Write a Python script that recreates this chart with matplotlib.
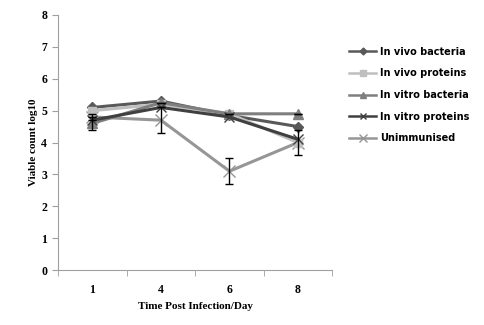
import matplotlib.pyplot as plt
import numpy as np

##------DATA-----------------------------------------------------------
days = ['1', '4', '6', '8']
in_vivo_bacteria = [5.1, 5.3, 4.85, 4.5]
in_vivo_proteins = [5.0, 5.2, 4.9, 4.0]
in_vitro_bacteria = [4.6, 5.25, 4.9, 4.9]
in_vitro_proteins = [4.7, 5.1, 4.8, 4.1]
unimmunised = [4.8, 4.7, 3.1, 4.0]
unimmunised_err = [0.1, 0.4, 0.4, 0.4]
in_vitro_bacteria_err = [0.2, 0.0, 0.0, 0.0]

##------FIGURE---------------------------------------------------------
plt.rcParams['font.family'] = ['Liberation Serif', 'DejaVu Serif']
fig = plt.figure(figsize=(4.85, 3.25), dpi=100)
ax = fig.add_axes([0.12, 0.169, 0.565, 0.785])
x = np.arange(len(days))

ax.plot(x, in_vivo_bacteria, color='#595959', lw=2.2, marker='D', ms=5, label='In vivo bacteria', zorder=3)
ax.plot(x, in_vivo_proteins, color='#bfbfbf', lw=2.2, marker='s', ms=6, label='In vivo proteins', zorder=3)
ax.plot(x, in_vitro_bacteria, color='#7f7f7f', lw=2.2, marker='^', ms=7, label='In vitro bacteria', zorder=3)
ax.plot(x, in_vitro_proteins, color='#404040', lw=2.2, marker='x', ms=7, mew=1, label='In vitro proteins', zorder=4)
ax.plot(x, unimmunised, color='#969696', lw=2.2, marker='x', ms=8, mew=1, label='Unimmunised', zorder=2)

# error bars
ax.errorbar(x, in_vitro_bacteria, yerr=in_vitro_bacteria_err, fmt='none', ecolor='black', elinewidth=1, capsize=3, zorder=5)
ax.errorbar(x, unimmunised, yerr=unimmunised_err, fmt='none', ecolor='black', elinewidth=1, capsize=3, zorder=5)

##------AXES STYLE-----------------------------------------------------
ax.set_xlim(-0.5, 3.5)
ax.set_ylim(0, 8)
ax.set_yticks(range(0, 9))
ax.set_xticks(x)
ax.set_xticklabels(days)
ax.set_xticks(np.arange(-0.5, 4, 1), minor=True)
ax.tick_params(axis='x', which='major', length=0, pad=10)
ax.tick_params(axis='x', which='minor', length=4, color='#a0a0a0')
ax.tick_params(axis='y', length=4, color='#a0a0a0', pad=4)
for s in ['top', 'right']:
    ax.spines[s].set_visible(False)
ax.spines['left'].set_color('#a0a0a0')
ax.spines['bottom'].set_color('#a0a0a0')
for lab in ax.get_xticklabels() + ax.get_yticklabels():
    lab.set_fontsize(8.5)
    lab.set_fontweight('bold')

ax.set_xlabel('Time Post Infection/Day', fontsize=8, fontweight='bold', labelpad=4)
ax.set_ylabel('Viable count log10', fontsize=8, fontweight='bold', labelpad=2)

leg = ax.legend(loc='upper left', bbox_to_anchor=(1.03, 0.91), frameon=False,
                prop={'family': 'DejaVu Sans', 'weight': 'bold', 'size': 7},
                handlelength=2.8, labelspacing=1.2, handletextpad=0.4, markerscale=0.7)
for h in leg.get_lines():
    h.set_linewidth(1.8)

plt.savefig('out.png', dpi=100)
